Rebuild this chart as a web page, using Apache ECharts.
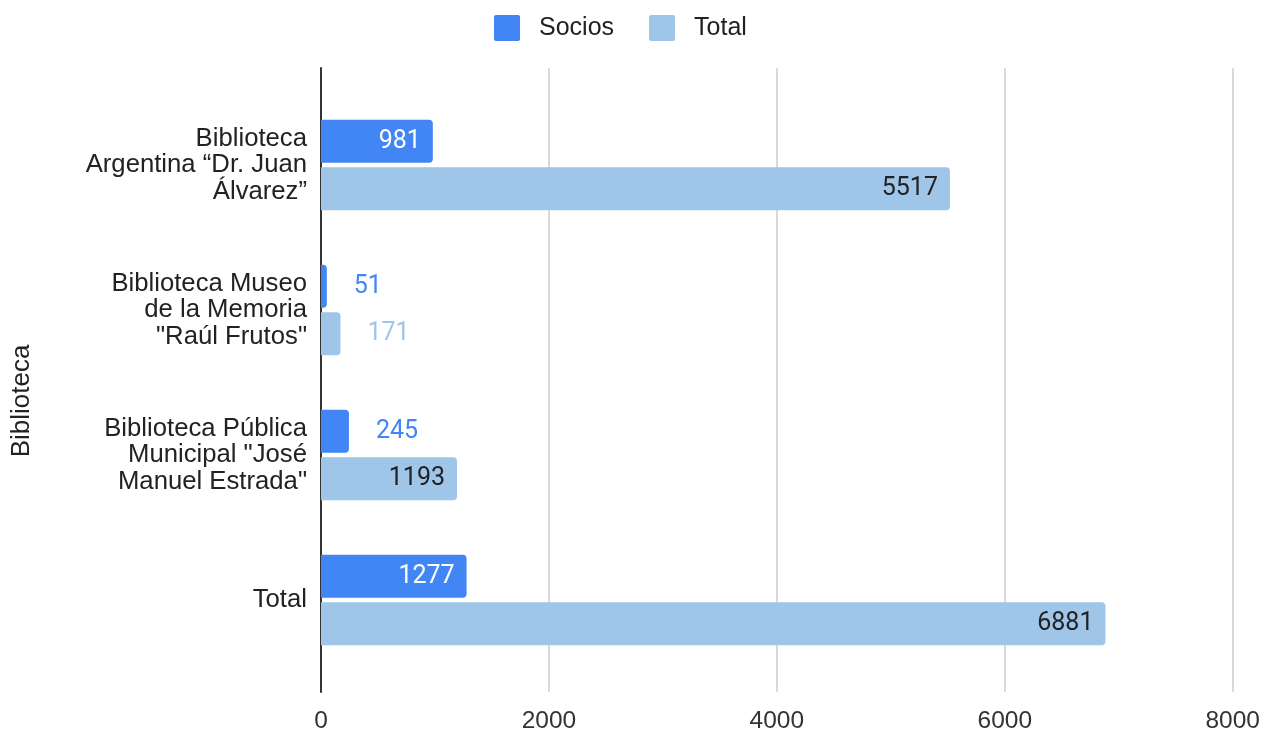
<!DOCTYPE html>
<html>
<head>
<meta charset="utf-8">
<script src="https://cdn.jsdelivr.net/npm/echarts@6/dist/echarts.min.js"></script>
<style>
  html, body { margin: 0; padding: 0; background: #fff; }
  #chart { width: 1263px; height: 734px; }
</style>
</head>
<body>
<div id="chart"></div>
<script>
// datos
const categories = [
  'Biblioteca\nArgentina “Dr. Juan\nÁlvarez”',
  'Biblioteca Museo\nde la Memoria\n"Raúl Frutos"',
  'Biblioteca Pública\nMunicipal "José\nManuel Estrada"',
  'Total'
];
const socios = [981, 51, 245, 1277];
const totales = [5517, 171, 1193, 6881];
const xTicks = [0, 2000, 4000, 6000, 8000];

const colorSocios = '#4285F4';
const colorTotal = '#9FC5E8';
const arial = '"Liberation Sans", Arial, sans-serif';
const roboto = 'Roboto, Arial, sans-serif';

// etiqueta dentro de la barra si cabe, si no afuera con el color de la barra
function buildData(values, barColor, insideColor) {
  return values.map(v => {
    const inside = v >= 500;
    return {
      value: v,
      label: {
        position: inside ? 'insideRight' : 'right',
        distance: inside ? 12 : 27,
        color: inside ? insideColor : barColor
      }
    };
  });
}

const chart = echarts.init(document.getElementById('chart'));

const option = {
  animation: false,
  textStyle: { fontFamily: arial },
  legend: {
    top: 15,
    left: 494,
    padding: 0,
    itemWidth: 26,
    itemHeight: 26,
    itemGap: 35,
    icon: 'path://M2,0H24A2,2 0 0 1 26,2V24A2,2 0 0 1 24,26H2A2,2 0 0 1 0,24V2A2,2 0 0 1 2,0Z',
    textStyle: { fontSize: 25, color: '#222', fontFamily: arial, padding: [0, 0, 0, 14] },
    data: ['Socios', 'Total']
  },
  graphic: [{
    type: 'text',
    x: 22,
    y: 401,
    rotation: Math.PI / 2,
    style: {
      text: 'Biblioteca',
      font: '26px ' + arial,
      fill: '#222',
      align: 'center',
      verticalAlign: 'middle'
    }
  }],
  grid: [
    // rejilla para ejes y líneas guía
    { left: 321, right: 30, top: 68, bottom: 39 },
    // rejilla para las barras
    { left: 321, right: 30, top: 92.5, bottom: 61.5 }
  ],
  xAxis: [
    {
      gridIndex: 0,
      type: 'value',
      min: xTicks[0],
      max: xTicks[xTicks.length - 1],
      interval: 2000,
      axisLine: { show: false },
      axisTick: { show: false },
      axisLabel: {
        fontSize: 24.5,
        color: '#333',
        margin: 17,
        fontFamily: arial,
        formatter: v => String(v)
      },
      splitLine: { lineStyle: { color: '#cccccc', width: 1.5 } }
    },
    {
      gridIndex: 1,
      type: 'value',
      min: xTicks[0],
      max: xTicks[xTicks.length - 1],
      show: false
    }
  ],
  yAxis: [
    {
      gridIndex: 0,
      type: 'value',
      min: 0,
      max: 1,
      axisLine: { show: true, lineStyle: { color: '#333', width: 2 } },
      axisTick: { show: false },
      axisLabel: { show: false },
      splitLine: { show: false }
    },
    {
      gridIndex: 1,
      type: 'category',
      inverse: true,
      data: categories,
      axisLine: { show: false },
      axisTick: { show: false },
      axisLabel: {
        fontSize: 25.7,
        lineHeight: 26.5,
        color: '#222',
        margin: 14,
        align: 'right',
        fontFamily: arial
      }
    }
  ],
  series: [
    {
      name: 'Socios',
      type: 'bar',
      xAxisIndex: 1,
      yAxisIndex: 1,
      barWidth: 43,
      barGap: '10%',
      itemStyle: { color: colorSocios, borderRadius: [0, 4, 4, 0] },
      label: { show: true, fontSize: 25, fontFamily: roboto },
      data: buildData(socios, colorSocios, '#ffffff'),
      z: 3
    },
    {
      name: 'Total',
      type: 'bar',
      xAxisIndex: 1,
      yAxisIndex: 1,
      barWidth: 43,
      barGap: '10%',
      itemStyle: { color: colorTotal, borderRadius: [0, 4, 4, 0] },
      label: { show: true, fontSize: 25, fontFamily: roboto },
      data: buildData(totales, colorTotal, '#222222'),
      z: 3
    }
  ]
};

chart.setOption(option);
</script>
</body>
</html>
